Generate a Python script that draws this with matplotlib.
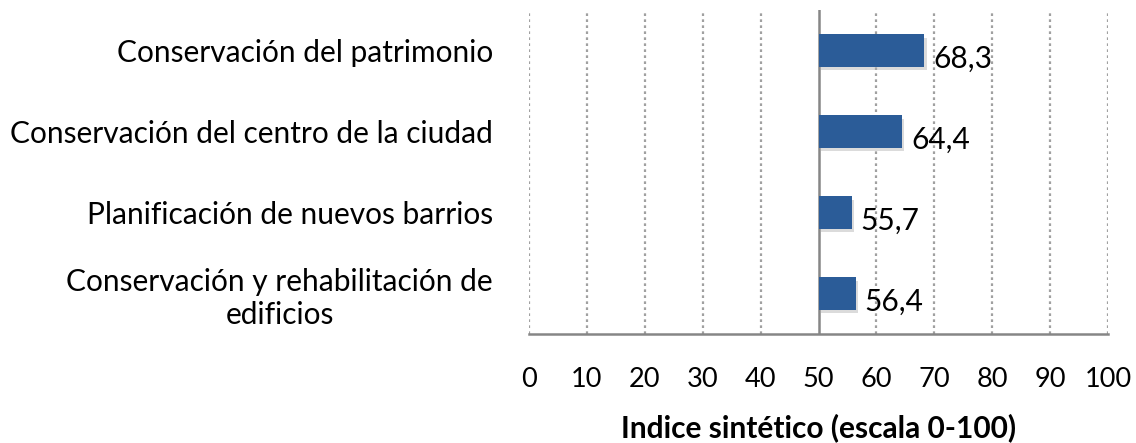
import matplotlib
matplotlib.use("Agg")
import matplotlib.pyplot as plt
import matplotlib.patheffects as pe

categories = ["Conservación del patrimonio",
              "Conservación del centro de la ciudad",
              "Planificación de nuevos barrios",
              "Conservación y rehabilitación de\nedificios"]
values = [68.3, 64.4, 55.7, 56.4]
value_labels = ["68,3", "64,4", "55,7", "56,4"]
xticks = [0, 10, 20, 30, 40, 50, 60, 70, 80, 90, 100]
xlabel = "Indice sintético (escala 0-100)"
origin = 50

plt.rcParams['font.family'] = ['Lato', 'DejaVu Sans']

fig = plt.figure(figsize=(11.36, 4.43), dpi=100)
ax = fig.add_axes([529/1136, 1-334/443, (1108-529)/1136, (334-10)/443])

ypos = list(range(len(categories)))[::-1]
bars = ax.barh(ypos, [v - origin for v in values], left=origin, height=0.4,
               color="#2B5C98", zorder=3)
for b in bars:
    b.set_path_effects([pe.SimplePatchShadow(offset=(1.5, -2.5), shadow_rgbFace="#B0B0B0", alpha=0.45), pe.Normal()])

for y, v, lab in zip(ypos, values, value_labels):
    ax.text(v + 1.6, y - 0.1, lab, va="center", ha="left", fontsize=21.5, color="black", zorder=4)

ax.set_xlim(0, 100)
ax.set_ylim(-0.5, len(categories) - 0.5)
ax.set_xticks(xticks)
ax.set_xticklabels([str(t) for t in xticks], fontsize=19.5)
ax.set_yticks(ypos)
ax.set_yticklabels(categories, fontsize=21.5, multialignment="center")
ax.tick_params(axis="both", length=0)
ax.tick_params(axis="x", pad=24)
ax.tick_params(axis="y", pad=26)

for t in xticks:
    if t != origin:
        ax.axvline(t, color="#A0A0A0", linestyle=(0, (1.2, 1.5)), linewidth=1.6, zorder=1)
ax.axvline(origin, color="#868686", linewidth=1.8, zorder=2)

for s in ["top", "right", "left"]:
    ax.spines[s].set_visible(False)
ax.spines["bottom"].set_color("#868686")
ax.spines["bottom"].set_linewidth(1.8)

ax.set_xlabel(xlabel, fontsize=21.5, fontweight="bold", labelpad=15)

fig.savefig("out.png", dpi=100)
